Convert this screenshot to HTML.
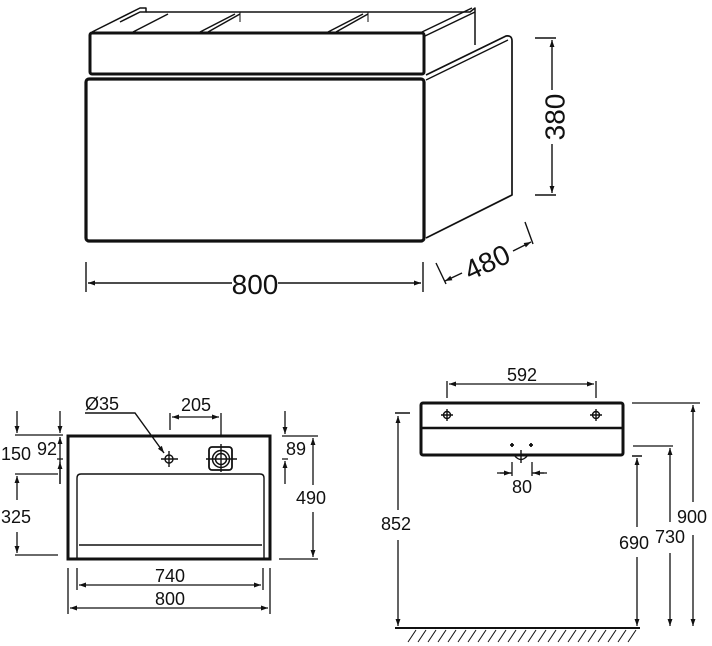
<!DOCTYPE html>
<html><head><meta charset="utf-8"><style>
html,body{margin:0;padding:0;background:#fff}
svg{display:block}
text{font-family:"Liberation Sans",Arial,sans-serif;fill:#111}
</style></head><body>
<svg width="712" height="646" viewBox="0 0 712 646" xmlns="http://www.w3.org/2000/svg">
<defs>
<marker id="a" viewBox="0 0 10 10" refX="10" refY="5" markerWidth="11" markerHeight="7" orient="auto-start-reverse" markerUnits="userSpaceOnUse"><path d="M0,1.5 L10,5 L0,8.5 z" fill="#111"/></marker>
</defs>
<g stroke="#111" fill="none" stroke-linejoin="round">
<!-- TOP 3D VIEW -->
<path d="M92,32 L140,8 L146,8 L146,12 L140,12 L120,22" stroke-width="1.5"/>
<path d="M146,12 L470,12 L475,8 L475,45" stroke-width="1.5"/>
<path d="M422,32 L472,8" stroke-width="1.5"/>
<path d="M425,36 L475,12" stroke-width="1.5"/>
<path d="M133,32 L168,14 M200,32 L235,14 M208,32 L240,14 M328,32 L363,14 M336,32 L368,14" stroke-width="1.5"/>
<path d="M240,12 L240,22 M368,12 L368,22" stroke-width="1"/>
<rect x="90" y="33" width="334" height="41" rx="2" stroke-width="3"/>
<rect x="86" y="79" width="338" height="162" rx="3" stroke-width="3.2"/>
<path d="M426,75 L506,36 Q512,35 512,41 L512,195 L426,238" stroke-width="1.7"/>
<path d="M426,80 L508,40" stroke-width="1.3"/>
<!-- 380 -->
<path d="M535,38 L556,38 M535,195 L556,195" stroke-width="1.4"/>
<path d="M552,40 L552,90 M552,144 L552,193" stroke-width="1.4" marker-start="url(#a)" marker-end="url(#a)"/>
<!-- 800 -->
<path d="M86,262 L86,292 M423,262 L423,292" stroke-width="1.4"/>
<path d="M88,283 L232,283" stroke-width="1.4" marker-start="url(#a)"/>
<path d="M421,283 L278,283" stroke-width="1.4" marker-start="url(#a)"/>
<!-- 480 -->
<path d="M436,263 L446,284 M525,222 L533,244" stroke-width="1.4"/>
<path d="M445,281 L462,273" stroke-width="1.4" marker-start="url(#a)"/>
<path d="M531,242 L513,251" stroke-width="1.4" marker-start="url(#a)"/>
</g>
<text x="555" y="117" font-size="28" text-anchor="middle" dominant-baseline="central" transform="rotate(-90 555 117)">380</text>
<text x="255" y="294" font-size="28" text-anchor="middle">800</text>
<text x="487" y="272" font-size="28" text-anchor="middle" transform="rotate(-25 487 262)">480</text>

<!-- BOTTOM LEFT plan -->
<g stroke="#111" fill="none">
<rect x="68" y="436" width="202" height="123" stroke-width="3"/>
<path d="M77,558 L77,478 Q77,474 81,474 L260,474 Q264,474 264,478 L264,558" stroke-width="1.4"/>
<path d="M79,545 L262,545" stroke-width="1.4"/>
<circle cx="169" cy="459" r="4" stroke-width="1.4"/>
<path d="M161,459 L178,459 M169,451 L169,467" stroke-width="1.4"/>
<rect x="209" y="447" width="23" height="23" rx="3" stroke-width="1.8"/>
<circle cx="221" cy="459" r="8.5" stroke-width="1.5"/>
<circle cx="221" cy="459" r="5.5" stroke-width="1.5"/>
<path d="M206,459 L237,459 M221,444 L221,472" stroke-width="1.4"/>
<path d="M85,413 L135,413 L164,453" stroke-width="1.4" marker-end="url(#a)"/>
<path d="M170,413 L170,430 M221,413 L221,436" stroke-width="1.3"/>
<path d="M172,417 L219,417" stroke-width="1.3" marker-start="url(#a)" marker-end="url(#a)"/>
<path d="M15,435 L63,435 M15,474 L58,474 M15,555 L58,555" stroke-width="1.3"/>
<path d="M17,411 L17,433" stroke-width="1.3" marker-end="url(#a)"/>
<path d="M60,411 L60,433" stroke-width="1.3" marker-end="url(#a)"/>
<path d="M17,476 L17,500" stroke-width="1.3" marker-start="url(#a)"/>
<path d="M17,553 L17,532" stroke-width="1.3" marker-start="url(#a)"/>
<path d="M60,459 L60,437" stroke-width="1.3" marker-end="url(#a)"/>
<path d="M57,459 L63,459 M60,459 L60,484" stroke-width="1.3"/>
<path d="M60,484 L60,462" stroke-width="1.3" marker-end="url(#a)"/>
<path d="M282,436 L318,436 M279,559 L318,559 M282,459 L288,459" stroke-width="1.3"/>
<path d="M285,411 L285,434" stroke-width="1.3" marker-end="url(#a)"/>
<path d="M285,484 L285,461" stroke-width="1.3" marker-end="url(#a)"/>
<path d="M313,438 L313,485" stroke-width="1.3" marker-start="url(#a)"/>
<path d="M313,557 L313,512" stroke-width="1.3" marker-start="url(#a)"/>
<path d="M77,568 L77,590 M263,568 L263,590 M68,568 L68,614 M270,568 L270,614" stroke-width="1.3"/>
<path d="M79,585 L261,585" stroke-width="1.3" marker-start="url(#a)" marker-end="url(#a)"/>
<path d="M70,608 L268,608" stroke-width="1.3" marker-start="url(#a)" marker-end="url(#a)"/>
</g>
<text x="102" y="410" font-size="18" text-anchor="middle">Ø35</text>
<text x="196" y="411" font-size="18" text-anchor="middle">205</text>
<text x="1" y="460" font-size="18">150</text>
<text x="37" y="455" font-size="18">92</text>
<text x="1" y="523" font-size="18">325</text>
<text x="286" y="455" font-size="18">89</text>
<text x="296" y="504" font-size="18">490</text>
<text x="170" y="582" font-size="18" text-anchor="middle">740</text>
<text x="170" y="605" font-size="18" text-anchor="middle">800</text>

<!-- BOTTOM RIGHT elevation -->
<g stroke="#111" fill="none">
<rect x="421" y="403" width="202" height="52" rx="2" stroke-width="3"/>
<path d="M422,428 L622,428" stroke-width="2.5"/>
<circle cx="447" cy="415" r="3.5" stroke-width="1.4"/>
<path d="M441,415 L453,415 M447,409 L447,421" stroke-width="1.4"/>
<circle cx="596" cy="415" r="3.5" stroke-width="1.4"/>
<path d="M590,415 L602,415 M596,409 L596,421" stroke-width="1.4"/>
<path d="M447,381 L447,398 M596,381 L596,398" stroke-width="1.3"/>
<path d="M449,384 L594,384" stroke-width="1.3" marker-start="url(#a)" marker-end="url(#a)"/>
<path d="M514,455 Q521,464 528,455" stroke-width="1.4"/>
<path d="M521,450 L521,463" stroke-width="1.4"/>
<path d="M510,445 L514,445 M512,443 L512,447 M529,445 L533,445 M531,443 L531,447" stroke-width="1.8"/>
<path d="M512,473 L497,473 M532,473 L547,473" stroke-width="1.3"/>
<path d="M512,462 L512,476 M532,462 L532,476" stroke-width="1.3"/>
<path d="M500,473 L511,473" stroke-width="1.3" marker-end="url(#a)"/>
<path d="M544,473 L533,473" stroke-width="1.3" marker-end="url(#a)"/>
<path d="M395,628 L640,628" stroke-width="2"/>
<path d="M408,642 L416,630 M418,642 L426,630 M428,642 L436,630 M438,642 L446,630 M448,642 L456,630 M458,642 L466,630 M468,642 L476,630 M478,642 L486,630 M488,642 L496,630 M498,642 L506,630 M508,642 L516,630 M518,642 L526,630 M528,642 L536,630 M538,642 L546,630 M548,642 L556,630 M558,642 L566,630 M568,642 L576,630 M578,642 L586,630 M588,642 L596,630 M598,642 L606,630 M608,642 L616,630 M618,642 L626,630 M628,642 L636,630" stroke-width="1"/>
<path d="M395,413 L410,413" stroke-width="1.5"/>
<path d="M398,416 L398,510" stroke-width="1.3" marker-start="url(#a)"/>
<path d="M398,626 L398,540" stroke-width="1.3" marker-start="url(#a)"/>
<path d="M632,403 L700,403" stroke-width="1.3"/>
<path d="M693,405 L693,502" stroke-width="1.3" marker-start="url(#a)"/>
<path d="M693,626 L693,535" stroke-width="1.3" marker-start="url(#a)"/>
<path d="M633,446 L673,446" stroke-width="1.3"/>
<path d="M670,448 L670,522" stroke-width="1.3" marker-start="url(#a)"/>
<path d="M670,626 L670,553" stroke-width="1.3" marker-start="url(#a)"/>
<path d="M632,456 L642,456" stroke-width="1.5"/>
<path d="M637,458 L637,527" stroke-width="1.3" marker-start="url(#a)"/>
<path d="M637,626 L637,557" stroke-width="1.3" marker-start="url(#a)"/>
</g>
<text x="522" y="381" font-size="18" text-anchor="middle">592</text>
<text x="522" y="493" font-size="18" text-anchor="middle">80</text>
<text x="381" y="530" font-size="18">852</text>
<text x="619" y="549" font-size="18">690</text>
<text x="655" y="543" font-size="18">730</text>
<text x="677" y="523" font-size="18">900</text>
</svg>
</body></html>
